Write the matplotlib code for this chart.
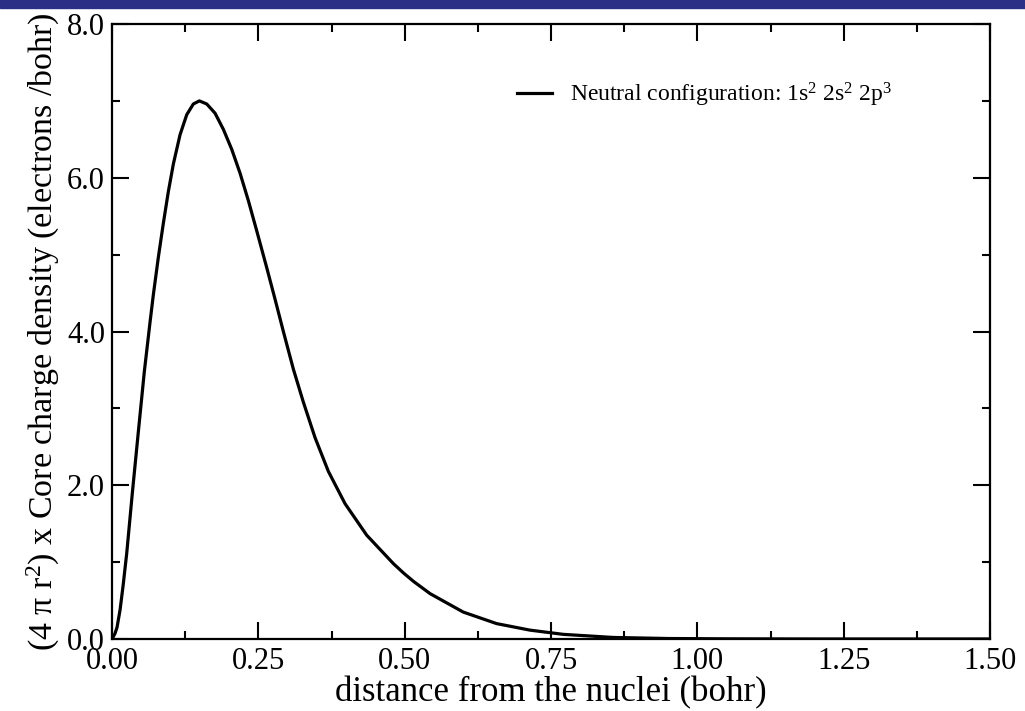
import matplotlib.pyplot as plt
from matplotlib.patches import Rectangle
from matplotlib.ticker import MultipleLocator

# distance from nucleus (bohr) and (4 pi r^2) x core charge density
r_bohr = [0.0, 0.005, 0.0085, 0.0137, 0.019, 0.0251, 0.0347, 0.045, 0.0552,
          0.0649, 0.0706, 0.0792, 0.0877, 0.0962, 0.1048, 0.1162, 0.1276,
          0.1389, 0.1492, 0.1618, 0.176, 0.1902, 0.2045, 0.2187, 0.2330,
          0.2472, 0.2643, 0.2785, 0.2927, 0.3098, 0.3269, 0.3468, 0.3696,
          0.3981, 0.4351, 0.4807, 0.4977, 0.5149, 0.5433, 0.600, 0.657, 0.714,
          0.771, 0.856, 0.95, 1.05, 1.2, 1.5]
density = [0.0, 0.07, 0.15, 0.377, 0.70, 1.115, 1.90, 2.70, 3.48,
           4.12, 4.48, 4.97, 5.41, 5.82, 6.18, 6.56, 6.82,
           6.96, 7.00, 6.96, 6.84, 6.63, 6.37, 6.06, 5.70,
           5.31, 4.83, 4.42, 4.00, 3.51, 3.08, 2.62, 2.18,
           1.76, 1.35, 0.98, 0.86, 0.75, 0.59, 0.35, 0.20, 0.115,
           0.06, 0.02, 0.006, 0.002, 0.0, 0.0]

x_ticks = [0.00, 0.25, 0.50, 0.75, 1.00, 1.25, 1.50]
y_ticks = [0.0, 2.0, 4.0, 6.0, 8.0]

plt.rcParams['font.family'] = ['Liberation Serif', 'DejaVu Serif']
plt.rcParams['mathtext.fontset'] = 'custom'
plt.rcParams['mathtext.rm'] = 'Liberation Serif'
plt.rcParams['mathtext.it'] = 'Liberation Serif'

fig = plt.figure(figsize=(10.25, 7.11), dpi=100)
ax = fig.add_axes([0.1093, 0.1013, 0.8566, 0.8649])

# slide header bar
fig.patches.append(Rectangle((0, 1 - 8 / 711), 1, 8 / 711, transform=fig.transFigure,
                             color='#2b2f86', zorder=5))

ax.plot(r_bohr, density, color='black', linewidth=2.3, solid_joinstyle='round',
        label='Neutral configuration: 1s$^{2}$ 2s$^{2}$ 2p$^{3}$')

ax.set_xlim(0, 1.5)
ax.set_ylim(0, 8)
ax.set_xticks(x_ticks)
ax.set_xticklabels([f'{v:.2f}' for v in x_ticks])
ax.set_yticks(y_ticks)
ax.set_yticklabels([f'{v:.1f}' for v in y_ticks])
ax.xaxis.set_minor_locator(MultipleLocator(0.125))
ax.yaxis.set_minor_locator(MultipleLocator(1.0))
ax.tick_params(which='both', direction='in', top=True, right=True, width=1.5,
               labelsize=22)
ax.tick_params(which='major', length=12.5)
ax.tick_params(which='minor', length=6)
ax.tick_params(axis='x', pad=6)
ax.tick_params(axis='y', pad=5)
for s in ax.spines.values():
    s.set_linewidth(1.6)

ax.set_xlabel('distance from the nuclei (bohr)', fontsize=25, labelpad=0)
ax.set_ylabel('(4 π r$^{2}$) x Core charge density (electrons /bohr)', fontsize=24.5,
              labelpad=4)

ax.legend(loc='center left', bbox_to_anchor=(0.461, 0.885), frameon=False,
          fontsize=17, handlelength=1.48, handletextpad=0.76,
          borderaxespad=0, borderpad=0)

fig.savefig('out.png', dpi=100)
